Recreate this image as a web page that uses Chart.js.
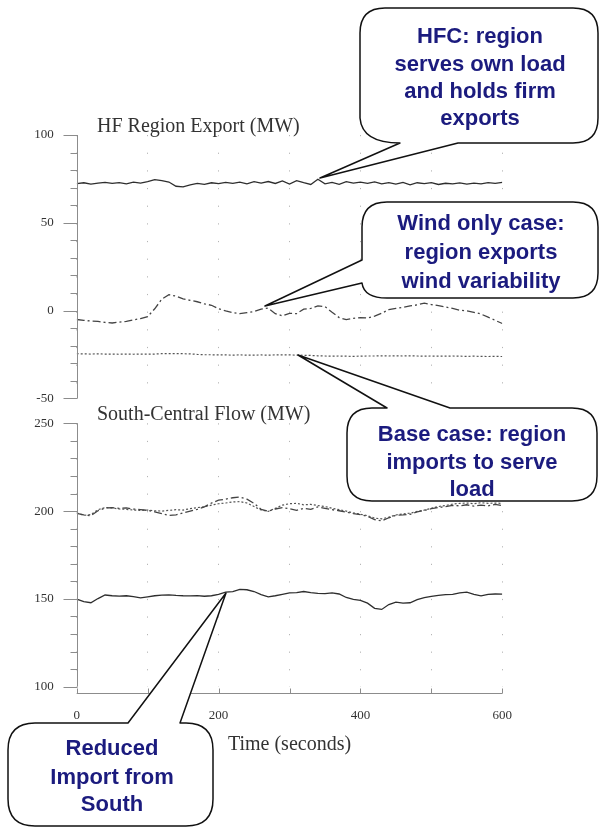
<!DOCTYPE html>
<html>
<head>
<meta charset="utf-8">
<script src="https://cdn.jsdelivr.net/npm/chart.js@4.4.1/dist/chart.umd.min.js"></script>
<style>
    body { margin: 0; background: #fff; width: 600px; height: 827px; position: relative; overflow: hidden; }
    #topChart { position: absolute; left: 0; top: 110px; }
    #bottomChart { position: absolute; left: 0; top: 410px; }
    .panelTitle { position: absolute; left: 97px; font-family: "Liberation Serif", serif; font-size: 20px; line-height: 20px; color: #333; white-space: nowrap; }
    #callouts { position: absolute; left: 0; top: 0; pointer-events: none; }
    #callouts text { font-family: "Liberation Sans", Arial, sans-serif; font-weight: bold; font-size: 22px; fill: #1b1b7e; text-anchor: middle; dominant-baseline: central; }
    #callouts path { fill: #fff; stroke: #111; stroke-width: 1.5; stroke-linejoin: round; }
</style>
</head>
<body>
<canvas id="topChart" width="600" height="300"></canvas>
<canvas id="bottomChart" width="600" height="350"></canvas>
<div class="panelTitle" style="top:115px">HF Region Export (MW)</div>
<div class="panelTitle" style="top:403px">South-Central Flow (MW)</div>

<svg id="callouts" width="600" height="827">
    <!-- HFC -->
    <path d="M360,33 Q360,8 385,8 L573,8 Q598,8 598,33 L598,118 Q598,143 573,143 L458,143 L320,178 L400,143 Q362,143 360,118 Z"/>
    <text x="480" y="35">HFC: region</text>
    <text x="480" y="63">serves own load</text>
    <text x="480" y="90">and holds firm</text>
    <text x="480" y="117">exports</text>
    <!-- Wind only -->
    <path d="M387,202 L573,202 Q598,202 598,227 L598,273 Q598,298 573,298 L387,298 Q364,298 362,283 L265,306 L362,260 L362,227 Q362,202 387,202 Z"/>
    <text x="481" y="222">Wind only case:</text>
    <text x="481" y="251">region exports</text>
    <text x="481" y="280">wind variability</text>
    <!-- Base case -->
    <path d="M347,433 Q347,408 372,408 L387,408 L298,355 L450,408 L572,408 Q597,408 597,433 L597,476 Q597,501 572,501 L372,501 Q347,501 347,476 Z"/>
    <text x="472" y="433">Base case: region</text>
    <text x="472" y="461">imports to serve</text>
    <text x="472" y="488">load</text>
    <!-- Reduced import -->
    <path d="M8,750 Q8,723 35,723 L128,723 L226,593 L180,723 L186,723 Q213,723 213,750 L213,799 Q213,826 186,826 L35,826 Q8,826 8,799 Z"/>
    <text x="112" y="747">Reduced</text>
    <text x="112" y="776">Import from</text>
    <text x="112" y="803">South</text>
</svg>

<script>
    // Tiempo (s)
    const times = [0, 10, 20, 30, 40, 50, 60, 70, 80, 90,
        100, 110, 120, 130, 140, 150, 160, 170, 180, 190,
        200, 210, 220, 230, 240, 250, 260, 270, 280, 290,
        300, 310, 320, 330, 340, 350, 360, 370, 380, 390,
        400, 410, 420, 430, 440, 450, 460, 470, 480, 490,
        500, 510, 520, 530, 540, 550, 560, 570, 580, 590, 600];

    // HF Region Export (MW)
    const exportHfc = [72.3, 72.8, 72.0, 72.6, 73.0, 72.4, 72.9, 72.2, 73.1, 72.6,
        73.4, 74.6, 74.0, 73.2, 70.8, 70.5, 71.6, 72.4, 71.9, 72.8,
        72.3, 73.0, 72.5, 73.2, 72.2, 73.4, 72.6, 73.5, 72.4, 73.8,
        72.0, 74.0, 72.8, 71.8, 74.8, 72.2, 73.0, 71.9, 73.4, 72.6,
        73.1, 72.5, 73.3, 72.2, 72.9, 72.0, 73.0, 71.6, 72.8, 72.3,
        72.9, 71.8, 72.5, 72.2, 72.7, 72.0, 72.6, 72.2, 72.9, 72.4, 73.0];
    const exportWind = [-5.1, -5.6, -6.0, -6.2, -6.8, -7.1, -6.6, -6.2, -5.3, -4.6,
        -3.5, 1.0, 6.5, 9.0, 8.2, 6.6, 5.8, 5.0, 3.8, 3.0,
        1.0, -0.2, -1.2, -1.8, -1.2, -0.6, 0.8, 1.4, -1.8, -3.0,
        -1.6, -1.8, 0.8, 1.2, 2.6, 2.2, -1.0, -4.0, -5.2, -4.5,
        -4.0, -4.3, -3.2, -1.5, 0.5, 1.2, 1.8, 2.6, 3.2, 4.2,
        3.4, 2.8, 2.0, 1.2, 0.2, -0.2, -1.0, -2.0, -3.8, -5.6, -7.4];
    const exportBase = [-24.6, -24.7, -24.8, -24.7, -24.8, -24.8, -24.9, -24.8, -24.9, -24.8,
        -24.9, -24.8, -24.6, -24.6, -24.5, -24.6, -24.7, -25.0, -25.2, -25.2,
        -25.3, -25.3, -25.4, -25.3, -25.4, -25.4, -25.3, -25.4, -25.3, -25.3,
        -25.3, -25.4, -25.5, -25.6, -25.8, -25.9, -26.0, -25.9, -26.0, -26.1,
        -26.0, -25.9, -25.9, -25.8, -25.9, -25.8, -25.9, -25.8, -25.9, -26.0,
        -25.9, -26.0, -26.0, -25.9, -26.0, -26.1, -26.0, -26.1, -26.2, -26.1, -26.2];

    // South-Central Flow (MW)
    const southHfc = [149.9, 148.4, 147.8, 150.2, 152.2, 151.8, 151.6, 151.8, 151.3, 150.6,
        151.2, 151.8, 152.2, 152.3, 152.0, 151.8, 151.7, 151.9, 151.5, 151.8,
        152.6, 153.8, 154.2, 155.4, 155.2, 154.2, 152.4, 151.2, 151.8, 152.6,
        153.4, 153.6, 154.2, 153.6, 153.2, 153.0, 153.4, 152.8, 150.8, 149.7,
        149.2, 147.6, 144.6, 144.0, 146.8, 148.2, 147.6, 147.8, 149.6, 150.7,
        151.4, 152.0, 152.4, 152.6, 153.4, 153.9, 152.6, 151.7, 152.6, 152.8, 152.7];
    const southWind = [198.7, 197.8, 197.4, 200.2, 201.8, 202.0, 201.6, 201.8, 201.2, 200.8,
        200.4, 199.6, 198.6, 197.6, 197.8, 199.0, 200.0, 201.0, 202.4, 204.6,
        206.2, 206.8, 207.6, 208.0, 206.8, 204.4, 201.0, 200.0, 201.2, 202.0,
        201.4, 200.4, 201.6, 201.0, 202.4, 201.6, 200.8, 200.2, 199.4, 198.6,
        198.0, 197.0, 195.2, 194.4, 196.2, 197.6, 197.8, 198.2, 199.6, 200.4,
        201.4, 202.0, 202.6, 203.2, 203.0, 203.6, 202.8, 203.4, 203.0, 203.8, 203.2];
    const southBase = [199.0, 197.6, 198.0, 200.8, 202.0, 201.8, 201.2, 201.0, 200.6, 200.4,
        200.6, 200.2, 200.0, 200.4, 200.8, 200.6, 201.4, 202.0, 202.4, 203.4,
        204.2, 204.6, 205.2, 205.4, 204.6, 202.6, 200.6, 199.8, 201.6, 203.4,
        204.2, 204.4, 203.6, 203.8, 203.2, 202.6, 201.6, 200.8, 200.0, 199.0,
        198.2, 197.4, 196.0, 195.6, 196.6, 197.8, 198.4, 198.8, 199.8, 200.6,
        201.6, 202.6, 203.2, 204.0, 204.4, 204.6, 204.2, 204.8, 204.4, 204.6, 204.4];

    // Marcas de ejes
    const xTicks = [0, 100, 200, 300, 400, 500, 600];
    const xLabels = [0, 200, 400, 600];
    const topMajor = [-50, 0, 50, 100];
    const topMinor = [-50, -40, -30, -20, -10, 0, 10, 20, 30, 40, 50, 60, 70, 80, 90, 100];
    const bottomMajor = [100, 150, 200, 250];
    const bottomMinor = [100, 110, 120, 130, 140, 150, 160, 170, 180, 190, 200, 210, 220, 230, 240, 250];

    const serif = '"Liberation Serif", "Times New Roman", serif';

    // Dibuja la línea del eje Y, sus marcas y (abajo) el eje X separado
    const axisFrame = {
        id: 'axisFrame',
        afterDraw(chart, args, opts) {
            const { ctx, chartArea } = chart;
            const x = chart.scales.x, y = chart.scales.y;
            const left = Math.round(chartArea.left) + 0.5;
            ctx.save();
            ctx.strokeStyle = '#8c8c8c';
            ctx.lineWidth = 1;
            ctx.beginPath();
            ctx.moveTo(left, y.getPixelForValue(y.max));
            ctx.lineTo(left, y.getPixelForValue(y.min));
            opts.minor.forEach(v => {
                const py = Math.round(y.getPixelForValue(v)) + 0.5;
                const len = opts.major.includes(v) ? 14 : 7;
                ctx.moveTo(left - len, py);
                ctx.lineTo(left, py);
            });
            if (opts.xAxis) {
                const ay = Math.round(chartArea.bottom + 6) + 0.5;
                ctx.moveTo(x.getPixelForValue(0), ay);
                ctx.lineTo(x.getPixelForValue(600), ay);
                xTicks.forEach(v => {
                    const px = Math.round(x.getPixelForValue(v)) + 0.5;
                    ctx.moveTo(px, ay);
                    ctx.lineTo(px, ay - 5);
                });
            }
            ctx.stroke();
            ctx.restore();
        }
    };

    function panelOptions(yMin, yMax, major, minor, dotGap, showX, padding) {
        return {
            responsive: false,
            animation: false,
            events: [],
            layout: { padding: padding },
            scales: {
                x: {
                    type: 'linear',
                    min: 0,
                    max: 600,
                    afterBuildTicks: s => { s.ticks = xTicks.map(v => ({ value: v })); },
                    afterFit: s => { s.height = showX ? 73.3 : 0; },
                    grid: { color: '#b5b5b5', lineWidth: 1, drawTicks: false, borderDash: [1.2, dotGap] },
                    border: { display: false, dash: [1.2, dotGap] },
                    ticks: {
                        display: showX,
                        autoSkip: false,
                        maxRotation: 0,
                        padding: 21,
                        color: '#333',
                        font: { family: serif, size: 13 },
                        callback: v => xLabels.includes(v) ? String(v) : ''
                    },
                    title: {
                        display: showX,
                        text: 'Time (seconds)',
                        color: '#333',
                        font: { family: serif, size: 20 },
                        padding: { top: 0, bottom: 3 }
                    }
                },
                y: {
                    min: yMin,
                    max: yMax,
                    afterBuildTicks: s => { s.ticks = major.map(v => ({ value: v })); },
                    afterFit: s => { s.width = 76.7; },
                    // marcas invisibles: solo sirven para separar las etiquetas del eje
                    grid: { display: true, drawOnChartArea: false, drawTicks: true, tickLength: 23, tickColor: 'rgba(0,0,0,0)' },
                    border: { display: false },
                    ticks: {
                        padding: 0,
                        color: '#333',
                        font: { family: serif, size: 13 }
                    }
                }
            },
            plugins: {
                legend: { display: false },
                tooltip: { enabled: false },
                axisFrame: { major: major, minor: minor, xAxis: showX }
            }
        };
    }

    function serie(data, color, width, dash) {
        return { data: data, borderColor: color, borderWidth: width, borderDash: dash, pointRadius: 0, fill: false, tension: 0 };
    }

    new Chart(document.getElementById('topChart'), {
        type: 'line',
        data: {
            labels: times,
            datasets: [
                serie(exportHfc, '#2e2e2e', 1.3, []),
                serie(exportWind, '#444', 1.3, [8, 3, 2, 3]),
                serie(exportBase, '#555', 1.2, [2, 2])
            ]
        },
        options: panelOptions(-50, 100, topMajor, topMinor, 16.46, false, { left: 0, top: 25, right: 97.7, bottom: 11.7 }),
        plugins: [axisFrame]
    });

    new Chart(document.getElementById('bottomChart'), {
        type: 'line',
        data: {
            labels: times,
            datasets: [
                serie(southHfc, '#2e2e2e', 1.3, []),
                serie(southWind, '#444', 1.3, [8, 3, 2, 3]),
                serie(southBase, '#555', 1.2, [2, 2])
            ]
        },
        options: panelOptions(100, 250, bottomMajor, bottomMinor, 16.36, true, { left: 0, top: 13.3, right: 97.7, bottom: 0 }),
        plugins: [axisFrame]
    });
</script>
</body>
</html>
